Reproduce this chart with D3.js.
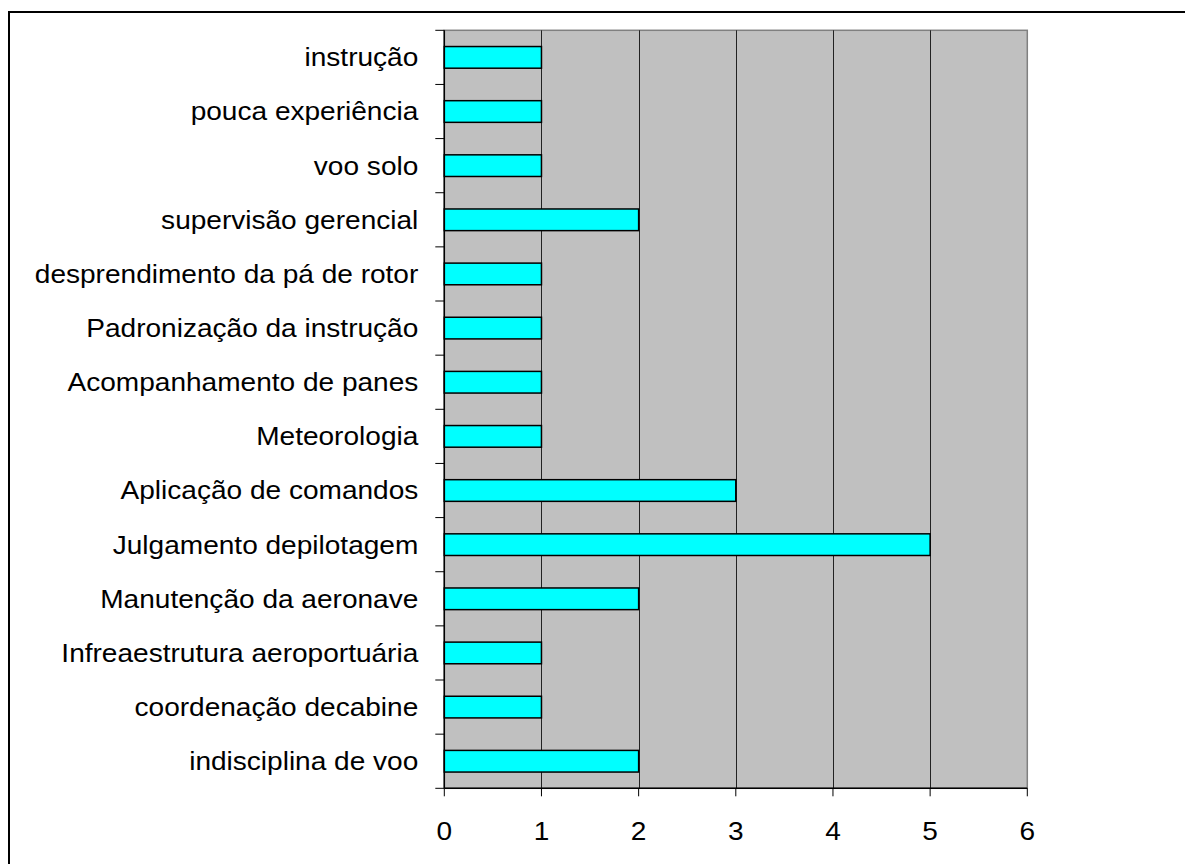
<!DOCTYPE html>
<html>
<head>
<meta charset="utf-8">
<script src="https://cdn.jsdelivr.net/npm/d3@7"></script>
<style>
  html, body { margin: 0; padding: 0; background: #fff; }
  svg { display: block; }
  text { font-family: "Liberation Sans", Arial, sans-serif; fill: #000; }
</style>
</head>
<body>
<script>
const categories = [
  "instrução",
  "pouca experiência",
  "voo solo",
  "supervisão gerencial",
  "desprendimento da pá de rotor",
  "Padronização da instrução",
  "Acompanhamento de panes",
  "Meteorologia",
  "Aplicação de comandos",
  "Julgamento depilotagem",
  "Manutenção da aeronave",
  "Infreaestrutura aeroportuária",
  "coordenação decabine",
  "indisciplina de voo"
];
const values = [1, 1, 1, 2, 1, 1, 1, 1, 3, 5, 2, 1, 1, 2];
const xTicks = [0, 1, 2, 3, 4, 5, 6];

const W = 1185, H = 864;
const pLeft = 444.3, pRight = 1027.3, pTop = 30.3, pBottom = 788.3;
const fontSize = 25.5, stretch = 1.1;

const svg = d3.select("body").append("svg").attr("width", W).attr("height", H);

// outer frame (only left and top edges visible)
svg.append("rect")
  .attr("x", 9).attr("y", 12)
  .attr("width", 1300).attr("height", 1000)
  .attr("fill", "none").attr("stroke", "#000").attr("stroke-width", 2);

const x = d3.scaleLinear().domain([0, 6]).range([pLeft, pRight]);
const y = d3.scaleBand().domain(categories).range([pTop, pBottom]).paddingInner(0.6).paddingOuter(0.3);
const yEdges = d3.scaleLinear().domain([0, categories.length]).range([pTop, pBottom]);

// plot background
svg.append("rect")
  .attr("x", pLeft).attr("y", pTop)
  .attr("width", pRight - pLeft).attr("height", pBottom - pTop)
  .attr("fill", "#C0C0C0")
  .attr("stroke", "#808080").attr("stroke-width", 1.5);

// vertical gridlines
svg.append("g").selectAll("line")
  .data(xTicks.filter(d => d > 0 && d < 6))
  .join("line")
  .attr("x1", d => Math.round(x(d)) + 0.5).attr("x2", d => Math.round(x(d)) + 0.5)
  .attr("y1", pTop).attr("y2", pBottom)
  .attr("stroke", "#222").attr("stroke-width", 1);

// bars
svg.append("g").selectAll("rect")
  .data(categories.map((c, i) => ({ c, v: values[i] })))
  .join("rect")
  .attr("x", x(0))
  .attr("y", d => y(d.c))
  .attr("width", d => x(d.v) - x(0))
  .attr("height", y.bandwidth())
  .attr("fill", "#00FFFF")
  .attr("stroke", "#000").attr("stroke-width", 1.5);

// y axis line + ticks
const yAxis = svg.append("g");
yAxis.append("line")
  .attr("x1", pLeft).attr("x2", pLeft).attr("y1", pTop).attr("y2", pBottom)
  .attr("stroke", "#000").attr("stroke-width", 1.5);
yAxis.selectAll("line.tick")
  .data(d3.range(categories.length + 1))
  .join("line").attr("class", "tick")
  .attr("x1", pLeft - 9).attr("x2", pLeft)
  .attr("y1", d => yEdges(d)).attr("y2", d => yEdges(d))
  .attr("stroke", "#000").attr("stroke-width", 1);
yAxis.selectAll("text")
  .data(categories)
  .join("text")
  .attr("transform", d => `translate(${pLeft - 26},${y(d) + y.bandwidth() / 2}) scale(${stretch},1)`)
  .attr("dy", "0.35em")
  .attr("text-anchor", "end")
  .attr("font-size", fontSize)
  .text(d => d);

// x axis line + ticks
const xAxis = svg.append("g");
xAxis.append("line")
  .attr("x1", pLeft).attr("x2", pRight).attr("y1", pBottom).attr("y2", pBottom)
  .attr("stroke", "#000").attr("stroke-width", 1.5);
xAxis.selectAll("line.tick")
  .data(xTicks)
  .join("line").attr("class", "tick")
  .attr("x1", d => x(d)).attr("x2", d => x(d))
  .attr("y1", pBottom).attr("y2", pBottom + 8)
  .attr("stroke", "#000").attr("stroke-width", 1);
xAxis.selectAll("text")
  .data(xTicks)
  .join("text")
  .attr("transform", d => `translate(${x(d)},840) scale(${stretch},1)`)
  .attr("text-anchor", "middle")
  .attr("font-size", fontSize)
  .text(d => d);
</script>
</body>
</html>
